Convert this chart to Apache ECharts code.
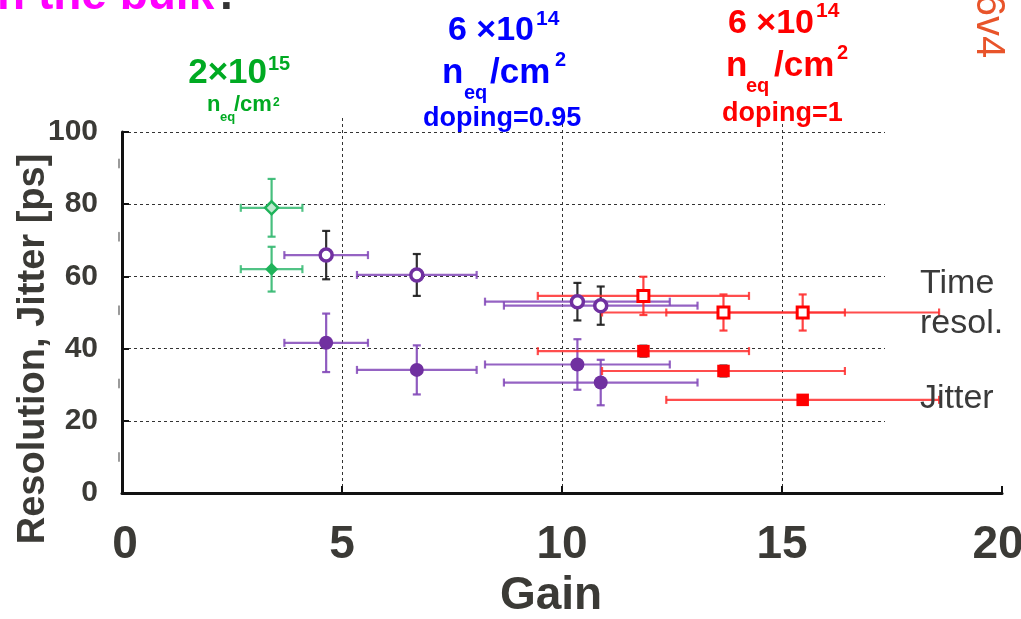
<!DOCTYPE html>
<html>
<head>
<meta charset="utf-8">
<script src="https://cdn.jsdelivr.net/npm/echarts@6/dist/echarts.min.js"></script>
<style>html,body{margin:0;padding:0;background:#fff;}#c{width:1021px;height:619px;}</style>
</head>
<body>
<div id="c"></div>
<script>
// ---------- data ----------
const gainTicks = [0, 5, 10, 15, 20];
const resolTicks = [0, 20, 40, 60, 80, 100];

// 2e15 neq/cm2 (green)
const green2e15Gain = [3.40];
const green2e15GainErr = [0.70];
const green2e15Resol = [79.0];
const green2e15ResolErr = [8.0];
const green2e15Jitter = [62.0];
const green2e15JitterErr = [6.2];

// 6e14 neq/cm2, doping 0.95 (purple)
const purple6e14Gain = [4.64, 6.70, 10.35, 10.88];
const purple6e14GainErr = [0.95, 1.36, 2.10, 2.20];
const purple6e14Resol = [65.9, 60.4, 53.0, 51.9];
const purple6e14ResolErr = [6.7, 5.8, 5.2, 5.3];
const purple6e14Jitter = [41.6, 34.1, 35.6, 30.6];
const purple6e14JitterErr = [8.1, 6.8, 7.0, 6.3];

// 6e14 neq/cm2, doping 1 (red)
const red6e14Gain = [11.85, 13.67, 15.47];
const red6e14GainErr = [2.40, 2.76, 3.10];
const red6e14Resol = [54.6, 50.0, 50.0];
const red6e14ResolErr = [5.3, 5.0, 5.0];
const red6e14Jitter = [39.3, 33.8, 25.8];
const red6e14JitterErr = [1.5, 1.5, 1.0];

// ---------- styling ----------
const FONT = '"Liberation Sans", Arial, Helvetica, sans-serif';
const AXC = '#3b3a36';
const GREEN = '#1fb35a', GREENBAR = '#33b870';
const PURPLE = '#7030a0', PURPLEBAR = '#8248b8';
const RED = '#ff0000', REDBAR = '#ff2e2e';
const BLACK = '#1a1a1a';

const zipErr = (g, ge, v, ve) => g.map((x, i) => [x, v[i], ge[i], ve[i]]);
const zipPt = (g, v) => g.map((x, i) => [x, v[i]]);

function errSeries(data, hColor, vColor) {
  return {
    type: 'custom', xAxisIndex: 0, yAxisIndex: 0, z: 2, silent: true,
    data: data, encode: {x: 0, y: 1},
    renderItem: function (params, api) {
      const x = api.value(0), y = api.value(1), xe = api.value(2), ye = api.value(3);
      const l = api.coord([x - xe, y]), r = api.coord([x + xe, y]);
      const t = api.coord([x, y + ye]), b = api.coord([x, y - ye]);
      const c = 4;
      const hs = {stroke: hColor, lineWidth: 2.2, opacity: 0.85};
      const vs = {stroke: vColor, lineWidth: 2.2, opacity: 0.9};
      const L = (x1, y1, x2, y2, s) => ({type: 'line', shape: {x1, y1, x2, y2}, style: s});
      return {type: 'group', children: [
        L(l[0], l[1], r[0], r[1], hs), L(l[0], l[1] - c, l[0], l[1] + c, hs), L(r[0], r[1] - c, r[0], r[1] + c, hs),
        L(t[0], t[1], b[0], b[1], vs), L(t[0] - c, t[1], t[0] + c, t[1], vs), L(b[0] - c, b[1], b[0] + c, b[1], vs)
      ]};
    }
  };
}
function ptSeries(data, symbol, size, fill, border, bw) {
  return {type: 'scatter', xAxisIndex: 0, yAxisIndex: 0, z: 5, silent: true,
    symbol: symbol, symbolSize: size, data: data,
    itemStyle: {color: fill, borderColor: border, borderWidth: bw, opacity: 1}};
}
function txt(text, x, y, size, color, weight, align) {
  return {type: 'text', x: x, y: y, z: 100, silent: true,
    style: {text: text, fill: color, font: weight + ' ' + size + 'px ' + FONT, textAlign: align || 'left', verticalAlign: 'middle'}};
}

const gMin = gainTicks[0], gMax = gainTicks[gainTicks.length - 1], gStep = gainTicks[1] - gainTicks[0];
const rMin = resolTicks[0], rMax = resolTicks[resolTicks.length - 1], rStep = resolTicks[1] - resolTicks[0];

const option = {
  animation: false,
  backgroundColor: '#fff',
  grid: [
    {left: 122, right: 19, top: 132, bottom: 126, outerBoundsMode: 'none', containLabel: false},
    {left: 122, right: 136, top: 118, bottom: 126, outerBoundsMode: 'none', containLabel: false}
  ],
  xAxis: [
    {gridIndex: 0, type: 'value', min: gMin, max: gMax, interval: gStep,
      axisLine: {show: true, onZero: false, lineStyle: {color: '#111', width: 3}},
      axisTick: {show: true, inside: true, length: 7, lineStyle: {color: '#111', width: 2}},
      axisLabel: {margin: 29, fontSize: 46, fontWeight: 'bold', color: AXC, fontFamily: FONT,
        formatter: v => v === gMax ? '{r|' + v + '}' : (v === gMin ? '{l|' + v + '}' : String(v)),
        rich: {r: {padding: [0, 8, 0, 0], fontSize: 46, fontWeight: 'bold', color: AXC, fontFamily: FONT},
               l: {padding: [0, 0, 0, 6], fontSize: 46, fontWeight: 'bold', color: AXC, fontFamily: FONT}}},
      splitLine: {show: false}},
    {gridIndex: 1, type: 'value', min: gMin, max: (885 - 122) / 44, interval: gStep,
      axisLine: {show: false}, axisTick: {show: false}, axisLabel: {show: false},
      splitLine: {show: true, showMinLine: false, showMaxLine: false, lineStyle: {color: '#333', width: 1, type: [3, 3]}}}
  ],
  yAxis: [
    {gridIndex: 0, type: 'value', min: rMin, max: rMax, interval: rStep,
      axisLine: {show: true, onZero: false, lineStyle: {color: '#111', width: 3}},
      axisTick: {show: true, inside: true, length: 7, lineStyle: {color: '#111', width: 2}},
      axisLabel: {margin: 24, fontSize: 30, fontWeight: 'bold', color: AXC, fontFamily: FONT},
      splitLine: {show: false}},
    {gridIndex: 1, type: 'value', min: rMin, max: rMax + 14 / 3.61, interval: rStep,
      axisLine: {show: false}, axisTick: {show: false}, axisLabel: {show: false},
      splitLine: {show: true, showMinLine: false, showMaxLine: false, lineStyle: {color: '#333', width: 1, type: [3, 3]}}},
    {gridIndex: 0, type: 'value', min: rMin, max: rMax, position: 'left', offset: 3,
      axisLine: {show: true, onZero: false, lineStyle: {color: '#9a9a9a', width: 2, type: [8, 65.4], dashOffset: 41.4}},
      axisTick: {show: false}, axisLabel: {show: false}, splitLine: {show: false}}
  ],
  series: [
    errSeries(zipErr(green2e15Gain, green2e15GainErr, green2e15Resol, green2e15ResolErr), GREENBAR, GREENBAR),
    errSeries(zipErr(green2e15Gain, green2e15GainErr, green2e15Jitter, green2e15JitterErr), GREENBAR, GREENBAR),
    errSeries(zipErr(purple6e14Gain, purple6e14GainErr, purple6e14Resol, purple6e14ResolErr), PURPLEBAR, BLACK),
    errSeries(zipErr(purple6e14Gain, purple6e14GainErr, purple6e14Jitter, purple6e14JitterErr), PURPLEBAR, PURPLEBAR),
    errSeries(zipErr(red6e14Gain, red6e14GainErr, red6e14Resol, red6e14ResolErr), REDBAR, REDBAR),
    errSeries(zipErr(red6e14Gain, red6e14GainErr, red6e14Jitter, red6e14JitterErr), REDBAR, BLACK),
    ptSeries(zipPt(green2e15Gain, green2e15Resol), 'diamond', 13, '#bfe9cf', GREEN, 2.5),
    ptSeries(zipPt(green2e15Gain, green2e15Jitter), 'diamond', 13, GREEN, GREEN, 0),
    ptSeries(zipPt(purple6e14Gain, purple6e14Resol), 'circle', 12, '#fff', PURPLE, 3.5),
    ptSeries(zipPt(purple6e14Gain, purple6e14Jitter), 'circle', 14, PURPLE, PURPLE, 0),
    ptSeries(zipPt(red6e14Gain, red6e14Resol), 'rect', 11, '#fff', RED, 3),
    ptSeries(zipPt(red6e14Gain, red6e14Jitter), 'rect', 12.5, RED, RED, 0)
  ],
  graphic: [
    // slide fragments
    txt('n the bulk', -3, -4, 46, '#ff00ff', 'bold'),
    txt('.', 220, -4, 46, '#333', 'bold'),
    {type: 'text', x: 988, y: 26, z: 100, rotation: -Math.PI / 2, silent: true,
      style: {text: '6v4', fill: '#e8542a', font: 'normal 40px ' + FONT, textAlign: 'center', verticalAlign: 'middle'}},
    // green annotation
    txt('2\u00d710', 267, 72.9, 35, '#00aa22', 'bold', 'right'),
    txt('15', 268, 64.4, 20, '#00aa22', 'bold'),
    txt('n', 207, 105.4, 22, '#00aa22', 'bold'),
    txt('eq', 220, 117.2, 13, '#00aa22', 'bold'),
    txt('/cm', 234, 105.4, 22, '#00aa22', 'bold'),
    txt('2', 273, 102.4, 12, '#00aa22', 'bold'),
    // blue annotation
    txt('6 \u00d710', 534, 30.2, 34, '#0000ff', 'bold', 'right'),
    txt('14', 536, 19.7, 21, '#0000ff', 'bold'),
    txt('n', 442, 72.9, 35, '#0000ff', 'bold'),
    txt('eq', 464, 93.6, 20, '#0000ff', 'bold'),
    txt('/cm', 490, 72.9, 35, '#0000ff', 'bold'),
    txt('2', 555, 60.4, 20, '#0000ff', 'bold'),
    txt('doping=0.95', 423, 118.6, 27, '#0000ff', 'bold'),
    // red annotation
    txt('6 \u00d710', 814, 23.2, 34, '#ff0000', 'bold', 'right'),
    txt('14', 816, 11.7, 21, '#ff0000', 'bold'),
    txt('n', 726, 65.9, 35, '#ff0000', 'bold'),
    txt('eq', 746, 86.5, 20, '#ff0000', 'bold'),
    txt('/cm', 774, 65.9, 35, '#ff0000', 'bold'),
    txt('2', 837, 53.4, 20, '#ff0000', 'bold'),
    txt('doping=1', 722, 113.6, 27, '#ff0000', 'bold'),
    // right-side labels
    txt('Time', 920, 283.2, 34, '#3a3a3a', 'normal'),
    txt('resol.', 920, 323.2, 34, '#3a3a3a', 'normal'),
    txt('Jitter', 920, 398.2, 34, '#3a3a3a', 'normal'),
    // axis titles
    {type: 'text', x: 34, y: 349, z: 100, rotation: Math.PI / 2, silent: true,
      style: {text: 'Resolution, Jitter [ps]', fill: AXC, font: 'bold 38px ' + FONT, textAlign: 'center', verticalAlign: 'middle'}},
    {type: 'text', x: 551, y: 596, z: 100, silent: true,
      style: {text: 'Gain', fill: AXC, font: 'bold 46px ' + FONT, textAlign: 'center', verticalAlign: 'middle'}}
  ]
};

const chart = echarts.init(document.getElementById('c'), null, {renderer: 'canvas'});
chart.setOption(option);
</script>
</body>
</html>
